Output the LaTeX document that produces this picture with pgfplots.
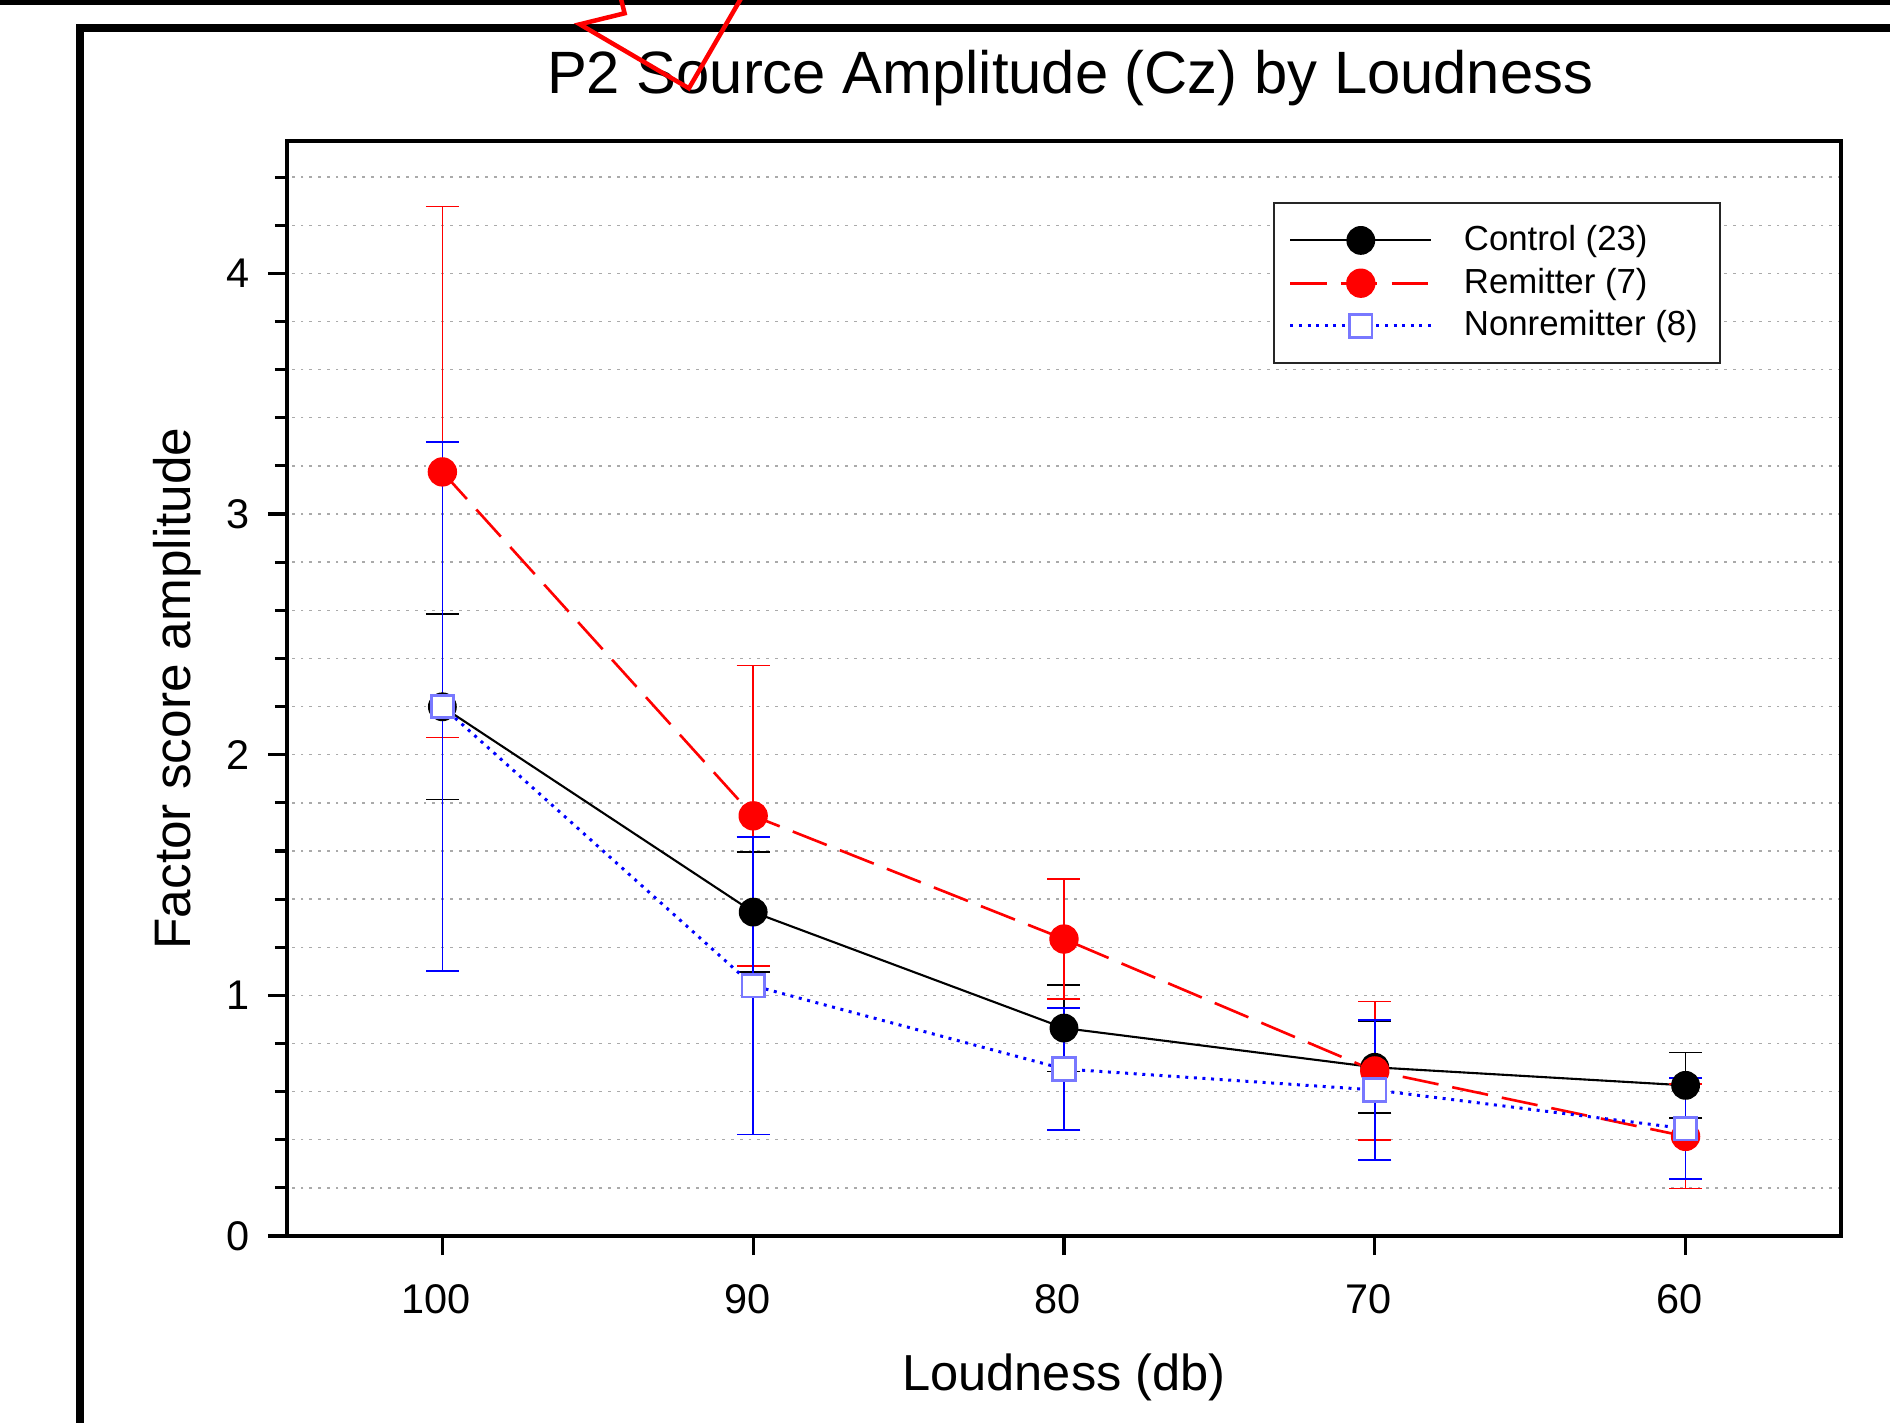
\documentclass[border=0pt]{standalone}
\usepackage{fontspec}
\setmainfont{Liberation Sans}
\usepackage{pgfplots}
\pgfplotsset{compat=1.18}
\definecolor{sqblue}{RGB}{120,120,255}
\definecolor{gridgray}{RGB}{170,170,170}

\begin{document}
\begin{tikzpicture}[x=1cm,y=1cm]
\useasboundingbox (0,0) rectangle (18.9,-14.23);
\begin{axis}[
  at={(2.87cm,-12.36cm)}, anchor=south west,
  scale only axis, width=15.54cm, height=10.95cm,
  xmin=55, xmax=105, x dir=reverse,
  ymin=0, ymax=4.55,
  xtick={100,90,80,70,60},
  ytick={0,1,2,3,4},
  minor ytick={0.2,0.4,0.6,0.8,1.2,1.4,1.6,1.8,2.2,2.4,2.6,2.8,3.2,3.4,3.6,3.8,4.2,4.4},
  xtick pos=bottom, ytick pos=left, tick align=outside,
  major tick length=0.19cm, minor tick length=0.12cm,
  tick style={black, line width=0.9pt},
  axis line style={black, line width=0.9pt},
  ymajorgrids, yminorgrids,
  major grid style={gridgray, line width=0.4pt, dash pattern=on 0.8pt off 1.7pt},
  minor grid style={gridgray, line width=0.4pt, dash pattern=on 0.8pt off 1.7pt},
  /pgf/number format/assume math mode=true,
  ticklabel style={font=\fontsize{11.8}{13}\selectfont},
  xticklabel style={xshift=-0.06cm, yshift=-0.17cm},
  yticklabel style={xshift=-0.06cm},
  every axis title/.style={at={(axis description cs:0.504,1)}, anchor=base, yshift=0.477cm,
    font=\fontsize{17}{19}\selectfont},
  title={P2 Source Amplitude (Cz) by Loudness},
  every axis x label/.style={at={(axis description cs:0.5,0)}, anchor=base, yshift=-1.54cm,
    font=\fontsize{14.4}{16}\selectfont},
  xlabel={Loudness (db)},
  every axis y label/.style={at={(axis description cs:-0.0624,0.5)}, anchor=base, rotate=90,
    font=\fontsize{14.6}{16}\selectfont},
  ylabel={Factor score amplitude},
  legend image code/.code={
    \draw[mark repeat=2,mark phase=2,#1] plot coordinates {(0cm,0cm) (0.705cm,0cm) (1.41cm,0cm)};},
  legend cell align=left,
  legend style={at={(axis description cs:0.6345,0.944)}, anchor=north west,
    draw=black!85, line width=0.6pt, font=\fontsize{9.9}{12}\selectfont,
    inner xsep=4.2pt, inner ysep=4.2pt, column sep=6.85pt, row sep=-0.5pt},
]
% Control (23)
\addplot[forget plot, draw=none, no marks,
  error bars/.cd, y dir=both, y explicit,
  error bar style={draw=black, line width=0.45pt, solid},
  error mark options={rotate=90, draw=black, line width=0.45pt, mark size=0.165cm, solid}]
  coordinates {(100,2.199) +- (0,0.386) (90,1.346) +- (0,0.249) (80,0.864) +- (0,0.180)
    (70,0.701) +- (0,0.190) (60,0.626) +- (0,0.136)};
\addplot[black, line width=0.6pt, mark=*, mark size=3.8pt, mark options={solid}]
  coordinates {(100,2.199) (90,1.346) (80,0.864) (70,0.701) (60,0.626)};
\addlegendentry{Control (23)}
% Remitter (7)
\addplot[forget plot, draw=none, no marks,
  error bars/.cd, y dir=both, y explicit,
  error bar style={draw=red, line width=0.45pt, solid},
  error mark options={rotate=90, draw=red, line width=0.45pt, mark size=0.165cm, solid}]
  coordinates {(100,3.175) +- (0,1.103) (90,1.746) +- (0,0.624) (80,1.234) +- (0,0.249)
    (70,0.686) +- (0,0.288) (60,0.414) +- (0,0.217)};
\addplot[red, line width=0.75pt, dash pattern=on 10.4pt off 4pt, mark=*, mark size=3.8pt,
  mark options={solid, fill=red}]
  coordinates {(100,3.175) (90,1.746) (80,1.234) (70,0.686) (60,0.414)};
\addlegendentry{Remitter (7)}
% Nonremitter (8)
\addplot[forget plot, draw=none, no marks,
  error bars/.cd, y dir=both, y explicit,
  error bar style={draw=blue, line width=0.45pt, solid},
  error mark options={rotate=90, draw=blue, line width=0.45pt, mark size=0.165cm, solid}]
  coordinates {(100,2.200) +- (0,1.100) (90,1.040) +- (0,0.618) (80,0.694) +- (0,0.253)
    (70,0.607) +- (0,0.290) (60,0.446) +- (0,0.210)};
\addplot[blue, line width=0.85pt, dash pattern=on 0.85pt off 1.6pt, mark=square*, mark size=3.2pt,
  mark options={solid, fill=white, draw=sqblue, line width=0.8pt}]
  coordinates {(100,2.200) (90,1.040) (80,0.694) (70,0.607) (60,0.446)};
\addlegendentry{Nonremitter (8)}
\end{axis}
% frame of the original screenshot
\draw[line width=0.047cm] (0,-0.0235) -- (18.9,-0.0235);
\draw[line width=0.085cm] (0.80,-14.6) -- (0.80,-0.28) -- (19.3,-0.28);
\draw[red, line width=0.045cm, line join=miter]
  (6.20,0.05) -- (6.246,-0.133) -- (5.798,-0.243) -- (6.889,-0.883) -- (7.43,0.05);
\end{tikzpicture}
\end{document}
